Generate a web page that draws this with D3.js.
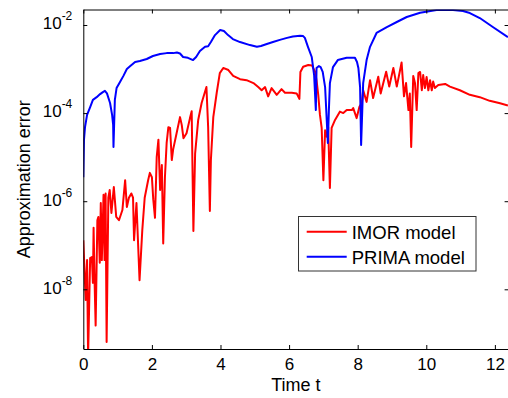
<!DOCTYPE html>
<html><head><meta charset="utf-8">
<script src="https://cdnjs.cloudflare.com/ajax/libs/d3/7.8.5/d3.min.js"></script>
<style>body{margin:0;background:#fff}svg{display:block}</style>
</head><body>
<svg id="c" width="508" height="398"></svg>
<script>
const imorT = [0,0.07,0.11,0.14,0.20,0.25,0.28,0.30,0.33,0.36,0.41,0.44,0.48,0.51,0.54,0.59,0.62,0.65,0.68,0.73,0.77,0.82,0.89,0.96,1.04,1.14,1.22,1.27,1.33,1.40,1.45,1.48,1.55,1.64,1.72,1.79,1.89,1.94,2.00,2.04,2.09,2.14,2.19,2.24,2.29,2.33,2.38,2.43,2.48,2.53,2.58,2.62,2.72,2.82,2.87,2.92,3.01,3.11,3.16,3.21,3.26,3.35,3.45,3.59,3.64,3.69,3.72,3.79,3.89,3.98,4.08,4.23,4.37,4.57,4.76,4.96,5.10,5.20,5.30,5.39,5.49,5.64,5.78,5.88,6.08,6.22,6.30,6.33,6.41,6.56,6.67,6.76,6.80,6.85,6.90,6.95,7.00,7.05,7.10,7.14,7.19,7.24,7.34,7.48,7.58,7.68,7.83,7.87,7.97,8.05,8.12,8.16,8.26,8.36,8.45,8.60,8.67,8.83,8.92,9.04,9.14,9.28,9.35,9.41,9.48,9.52,9.56,9.62,9.67,9.72,9.77,9.82,9.87,9.91,9.96,10.01,10.06,10.11,10.16,10.20,10.25,10.35,10.55,10.69,10.98,11.27,11.56,11.85,12.15,12.38];
const imorErr = [1.3e-7,5.7e-9,4.6e-8,3e-10,5.1e-8,5.4e-8,1.4e-8,2.5e-7,1.4e-8,1.5e-9,3.7e-7,4.4e-7,4.0e-8,9.1e-7,4.6e-8,1.4e-6,4.6e-8,1.5e-6,6.4e-10,1.2e-6,1.8e-6,5.4e-7,2.1e-6,4.4e-7,3.7e-7,6.3e-7,3.0e-6,7.4e-7,1.2e-6,1.5e-6,1.2e-6,1.3e-7,9.1e-7,1.6e-8,2.2e-7,1.2e-6,3.0e-6,4.4e-6,3.5e-6,1.1e-6,4.2e-7,1.0e-5,2.5e-5,1.8e-6,6.6e-6,1.1e-7,3.5e-6,2.1e-5,4.8e-5,4.6e-5,8.6e-6,1.5e-5,3.5e-5,8.1e-5,5.4e-5,2.7e-5,3.5e-5,7.7e-5,1.1e-4,2.1e-7,1.2e-5,7.0e-5,1.7e-4,3.9e-4,4.8e-5,6.0e-7,8.6e-6,8.1e-5,2.9e-4,8.1e-4,1.06e-3,9.5e-4,7.0e-4,5.9e-4,5.6e-4,4.8e-4,3.9e-4,3.3e-4,3.9e-4,2.4e-4,3.7e-4,2.6e-4,3.5e-4,2.9e-4,2.9e-4,2.8e-4,2.1e-4,8.6e-4,1.13e-3,1.24e-3,1.2e-3,8.6e-4,5.6e-4,2.6e-4,9.1e-5,4.6e-5,3.0e-6,4.1e-5,2.9e-5,4.8e-5,2.0e-6,4.6e-5,7.0e-5,1.08e-4,1.0e-4,1.17e-4,1.17e-4,1.3e-4,7.7e-5,1.4e-4,1.7e-4,3.3e-4,1.8e-4,5.6e-4,2.2e-4,6.7e-4,2.8e-4,8.7e-4,4.0e-4,1.06e-3,4.0e-4,1.41e-3,2.4e-4,4.8e-4,1.17e-4,2.8e-4,1.7e-5,7.0e-4,4.8e-4,1.17e-4,8.1e-4,8.6e-4,3.3e-4,7.3e-4,3.7e-4,6.6e-4,3.3e-4,5.6e-4,3.3e-4,5.2e-4,3.7e-4,4.35e-4,4.6e-4,4.0e-4,3.3e-4,2.6e-4,2.3e-4,1.9e-4,1.67e-4,1.49e-4];
const primaT = [0,0.02,0.05,0.11,0.20,0.28,0.39,0.49,0.57,0.63,0.69,0.78,0.84,0.87,0.88,0.92,0.97,1.07,1.17,1.27,1.37,1.51,1.65,1.85,2.03,2.24,2.43,2.62,2.73,2.82,2.91,3.05,3.20,3.29,3.40,3.55,3.64,3.72,3.84,3.99,4.10,4.22,4.36,4.57,4.86,5.06,5.18,5.35,5.53,5.73,5.94,6.11,6.32,6.41,6.46,6.55,6.66,6.73,6.78,6.80,6.87,6.92,6.98,7.05,7.09,7.13,7.16,7.19,7.28,7.42,7.68,7.92,7.98,8.02,8.07,8.10,8.16,8.26,8.36,8.55,8.85,9.14,9.43,9.82,10.30,10.78,11.07,11.27,11.56,11.94,12.38];
const primaErr = [3.5e-6,2.5e-5,4.8e-5,9.1e-5,1.37e-4,2.0e-4,2.3e-4,2.7e-4,3.0e-4,3.2e-4,2.8e-4,1.7e-4,9.1e-5,5.4e-5,1.7e-5,2.0e-4,3.7e-4,5.1e-4,7.0e-4,1.0e-3,1.17e-3,1.45e-3,1.52e-3,1.69e-3,1.98e-3,2.2e-3,2.3e-3,2.3e-3,2.37e-3,2.25e-3,1.88e-3,1.8e-3,1.6e-3,1.88e-3,2.57e-3,3.2e-3,3.3e-3,4.1e-3,5.9e-3,7.7e-3,7.3e-3,5.9e-3,4.8e-3,4.1e-3,3.5e-3,3.2e-3,3.33e-3,3.7e-3,4.1e-3,4.6e-3,5.1e-3,5.5e-3,5.7e-3,5.6e-3,5.1e-3,3.2e-3,1.88e-3,7.3e-4,1.17e-4,1.06e-3,1.17e-3,1.11e-3,8.6e-4,3.9e-4,9.1e-5,2.1e-5,1.17e-4,4.8e-4,1.11e-3,1.6e-3,1.8e-3,1.8e-3,1.45e-3,1.06e-3,3.9e-4,1.9e-5,4.8e-4,1.6e-3,3.2e-3,6.6e-3,9.0e-3,1.17e-2,1.52e-2,1.9e-2,2.19e-2,2.19e-2,2.08e-2,1.87e-2,1.44e-2,9.0e-3,5.3e-3];
const xTicks = [0,2,4,6,8,10,12];
const yTicks = [1e-8,1e-6,1e-4,1e-2];
const yTickExps = ["-8","-6","-4","-2"];
const seriesNames = ["IMOR model","PRIMA model"];
const seriesColors = ["#ff0000","#0000ff"];

const L=83.3, R=508.6, T=9.5, B=349;
const svg = d3.select("#c");
const x = d3.scaleLinear().domain([0,12.4]).range([L,R]);
const y = d3.scaleLog().domain([Math.pow(10,-9.355),Math.pow(10,-1.648)]).range([B,T]);

svg.append("defs").append("clipPath").attr("id","clip").append("rect")
  .attr("x",L).attr("y",T).attr("width",R-L).attr("height",B-T);

const font = "'Liberation Sans', Arial, sans-serif";
const line = d3.line().x(d=>x(d[0])).y(d=>y(d[1]));
const g = svg.append("g").attr("clip-path","url(#clip)");
const imor = imorT.map((t,i)=>[t,imorErr[i]]);
const prima = primaT.map((t,i)=>[t,primaErr[i]]);
g.append("path").datum(imor).attr("d",line).attr("fill","none").attr("stroke",seriesColors[0]).attr("stroke-width",2).attr("stroke-linejoin","round");
g.append("path").datum(prima).attr("d",line).attr("fill","none").attr("stroke",seriesColors[1]).attr("stroke-width",2).attr("stroke-linejoin","round");

// axes
const xa = svg.append("g").attr("transform",`translate(0,${B})`)
  .call(d3.axisBottom(x).tickValues(xTicks).tickSizeInner(-4).tickSizeOuter(0).tickPadding(9).tickFormat(d3.format("d")));
const xt = svg.append("g").attr("transform",`translate(0,${T})`)
  .call(d3.axisTop(x).tickValues(xTicks).tickSizeInner(-4).tickSizeOuter(0).tickFormat(""));
const ya = svg.append("g").attr("transform",`translate(${L},0)`)
  .call(d3.axisLeft(y).tickValues(yTicks).tickSizeInner(-4).tickSizeOuter(0).tickPadding(11).tickFormat(""));
const yr = svg.append("g").attr("transform",`translate(${R},0)`)
  .call(d3.axisRight(y).tickValues(yTicks).tickSizeInner(-4).tickSizeOuter(0).tickFormat(""));
[xa,xt,ya,yr].forEach(a=>{
  a.selectAll("path.domain").attr("stroke","#000").attr("stroke-width",1);
  a.selectAll(".tick line").attr("stroke","#000");
});
xa.selectAll("text").attr("font-family",font).attr("font-size",17).attr("fill","#000");
ya.selectAll(".tick text").each(function(d,i){
  const t = d3.select(this).attr("font-family",font).attr("fill","#000").attr("dy","0.38em").text(null);
  t.append("tspan").attr("font-size",17).text("10");
  t.append("tspan").attr("font-size",12).attr("dy","-0.75em").text(yTickExps[i]);
});

// labels
svg.append("text").attr("x",(L+R)/2).attr("y",391).attr("text-anchor","middle")
  .attr("font-family",font).attr("font-size",18).text("Time t");
svg.append("text").attr("transform",`translate(30,${(T+B)/2}) rotate(-90)`).attr("text-anchor","middle")
  .attr("font-family",font).attr("font-size",18).text("Approximation error");

// legend
const lg = svg.append("g");
lg.append("rect").attr("x",298.5).attr("y",216.5).attr("width",177.5).attr("height",54.5)
  .attr("fill","#fff").attr("stroke","#333").attr("stroke-width",1);
seriesNames.forEach((n,i)=>{
  const yy = 231.7 + i*25;
  lg.append("line").attr("x1",306.7).attr("x2",346.7).attr("y1",yy).attr("y2",yy)
    .attr("stroke",seriesColors[i]).attr("stroke-width",2);
  lg.append("text").attr("x",351.7).attr("y",yy+7).attr("font-family",font).attr("font-size",18.5).text(n);
});
</script>
</body></html>
